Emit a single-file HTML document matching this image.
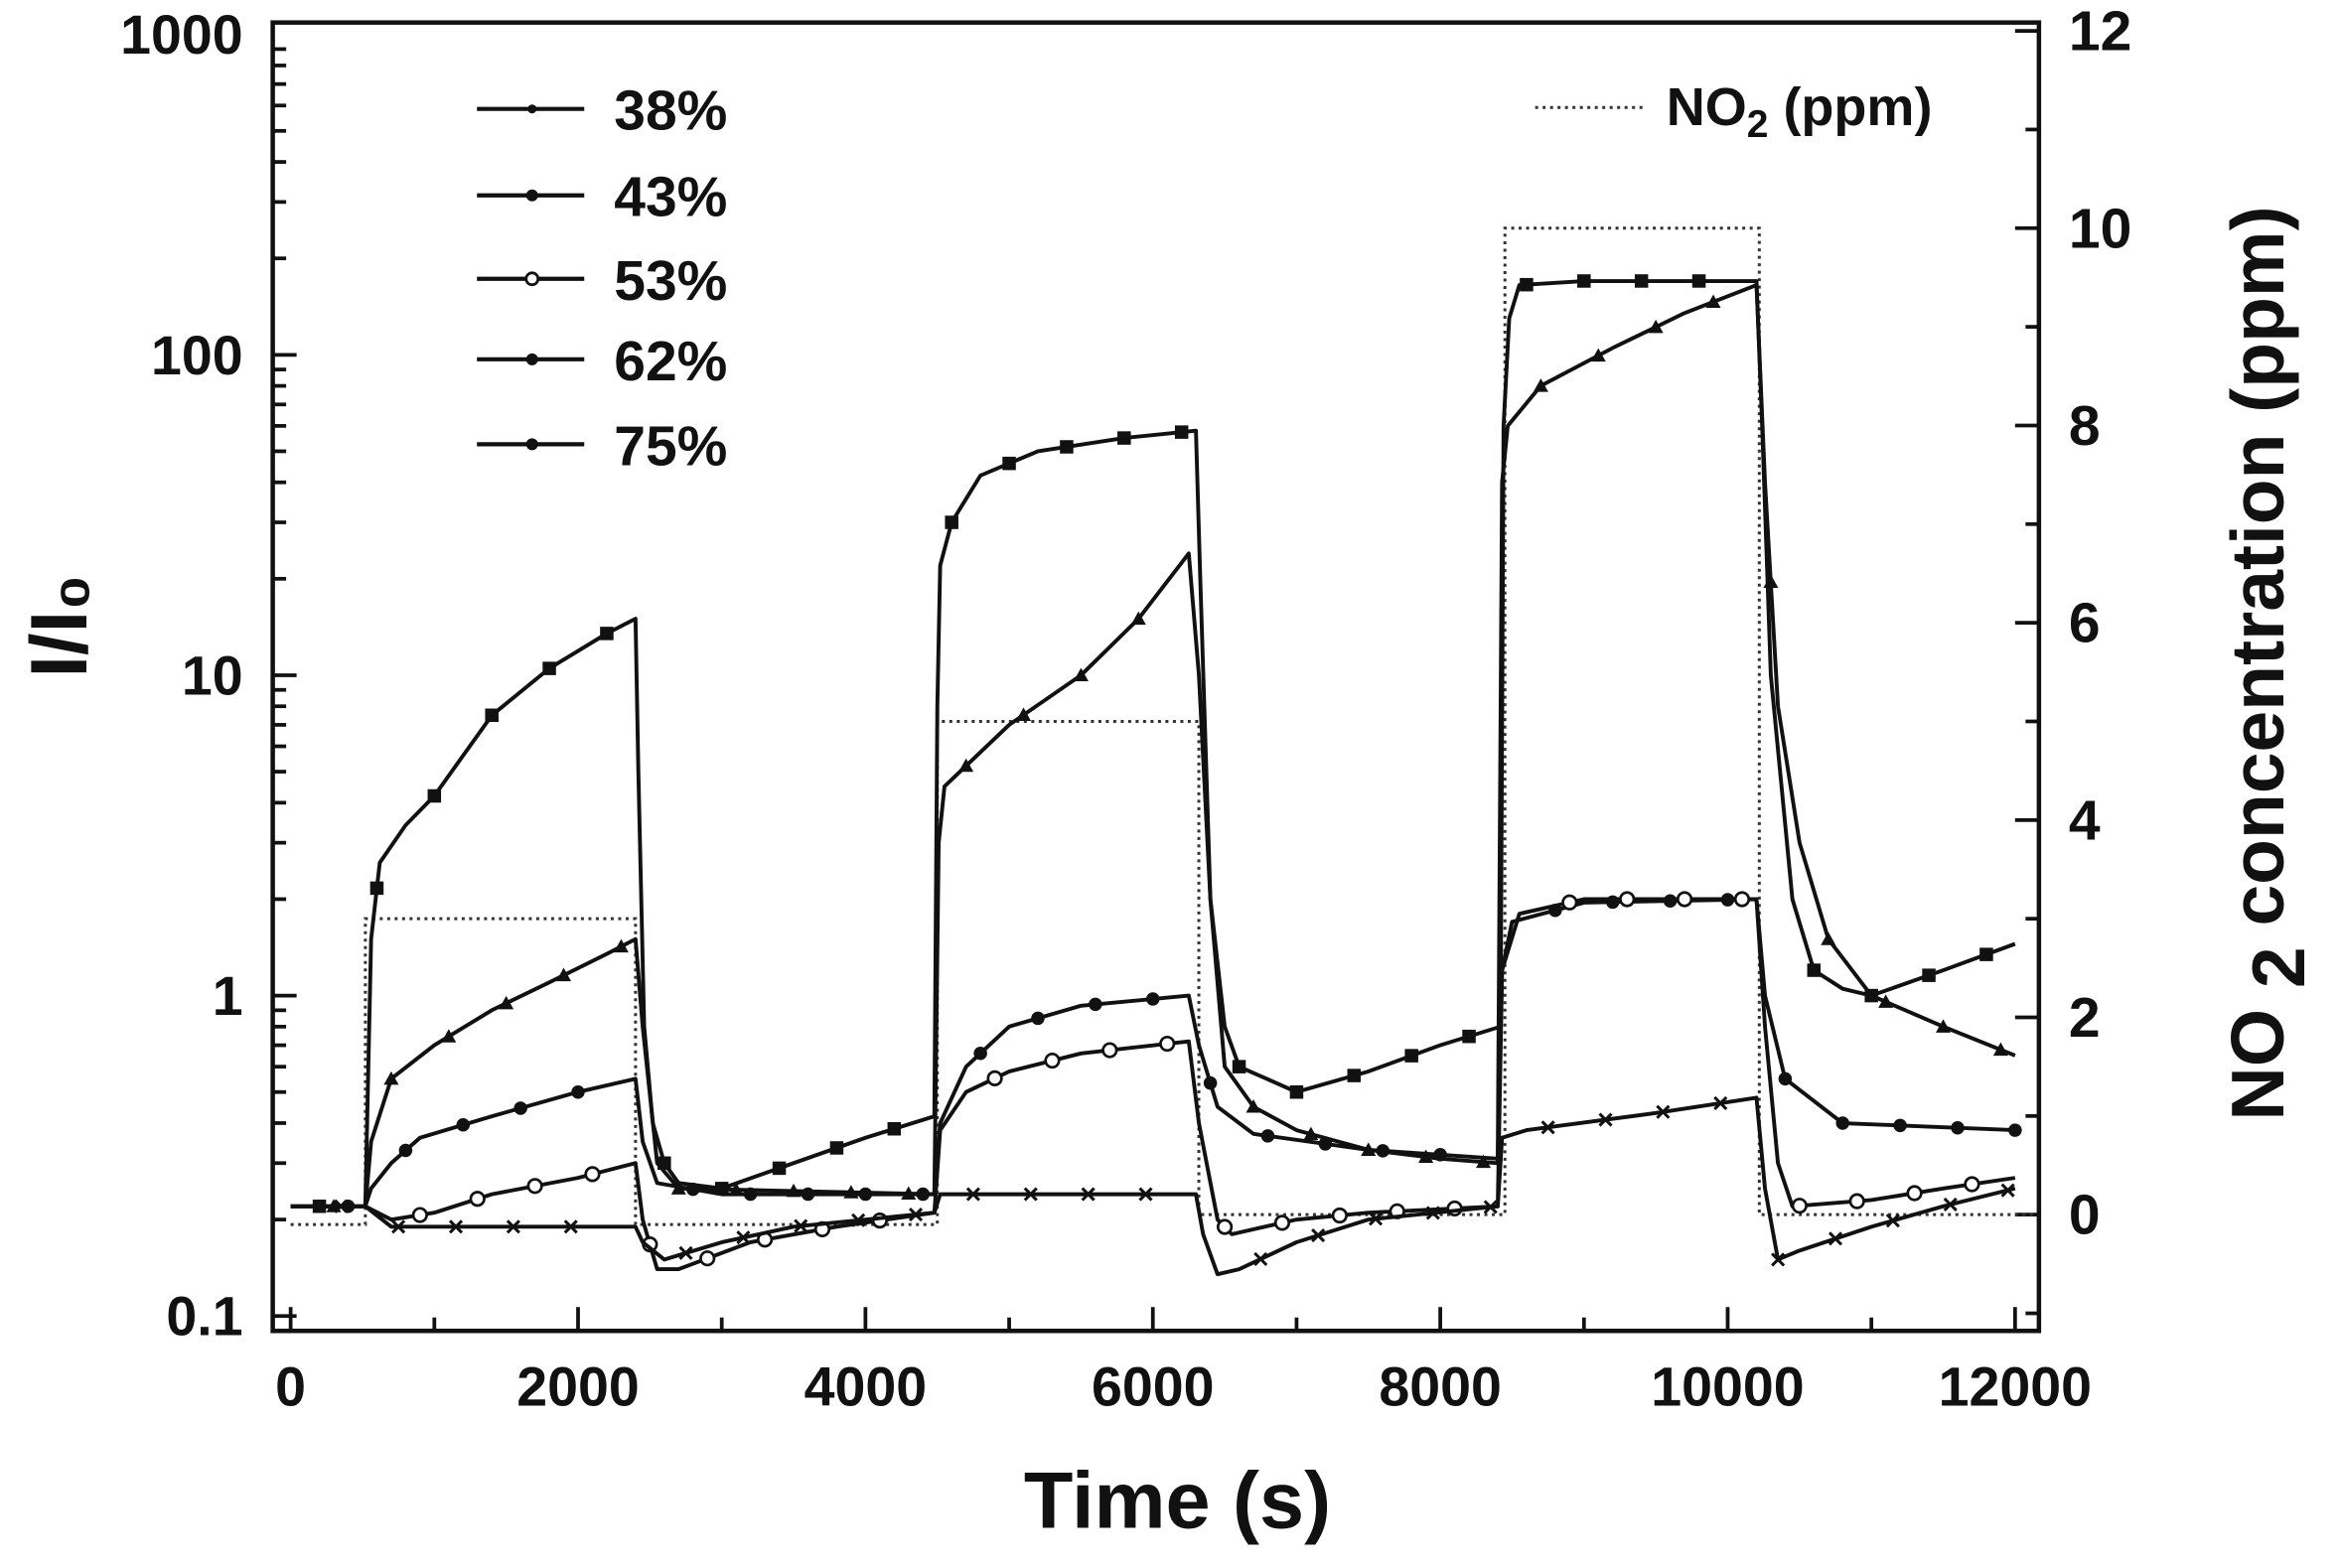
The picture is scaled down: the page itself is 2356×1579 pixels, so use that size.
<!DOCTYPE html>
<html><head><meta charset="utf-8"><style>
html,body{margin:0;padding:0;background:#fff}
svg{display:block}
text{font-family:"Liberation Sans",sans-serif;font-weight:bold;fill:#111}
</style></head><body>
<svg id="s" width="2356" height="1579" viewBox="0 0 1570 1052" xmlns="http://www.w3.org/2000/svg">
<rect x="0" y="0" width="1570" height="1052" fill="#fff"/>
<g id="g"></g>
</svg>
<script>
const NS="http://www.w3.org/2000/svg",g=document.getElementById('g');
function el(n,a,t){const e=document.createElementNS(NS,n);for(const k in a)e.setAttribute(k,a[k]);if(t!==undefined)e.textContent=t;g.appendChild(e);return e;}
const X=t=>195+t*(1352-195)/12000;
const Y=v=>668-215*Math.log10(v);
const YR=p=>815-66.2*p;
const L=183,R=1368,T=15,B=893;
el('rect',{x:L,y:T,width:R-L,height:B-T,fill:'none',stroke:'#111','stroke-width':3});
for(let t=0;t<=12000;t+=1000){const x=X(t);const big=t%2000==0;el('line',{x1:x,y1:B,x2:x,y2:B-(big?16:9),stroke:'#111','stroke-width':2.5});
 if(big)el('text',{x:x,y:943,'text-anchor':'middle','font-size':37},t);}
for(let d=-1;d<3;d++){for(let m=1;m<10;m++){const v=m*Math.pow(10,d);const y=Y(v);if(y<T||y>B)continue;el('line',{x1:L,y1:y,x2:L+(m==1?16:9),y2:y,stroke:'#111','stroke-width':2.5});}}
[[1000,'1000'],[100,'100'],[10,'10'],[1,'1'],[0.1,'0.1']].forEach(([v,s])=>el('text',{x:163,y:Y(v)+13,'text-anchor':'end','font-size':37},s));
for(let p=-1;p<=12;p++){const y=YR(p);if(y<T||y>B)continue;el('line',{x1:R,y1:y,x2:R-(p%2==0?16:9),y2:y,stroke:'#111','stroke-width':2.5});
 if(p%2==0&&p>=0)el('text',{x:1388,y:y+13,'font-size':38},p);}
el('text',{x:790,y:1025,'text-anchor':'middle','font-size':54},'Time (s)');
el('text',{x:0,y:0,'font-size':54,transform:'translate(58,420) rotate(-90)','text-anchor':'middle'},'I/I\u2080');
const rt=el('text',{x:0,y:0,'font-size':50,transform:'translate(1532,445) rotate(-90)','text-anchor':'middle'});
rt.innerHTML='NO<tspan dy="14" font-size="50"> 2</tspan><tspan dy="-14"> concentration (ppm)</tspan>';
const no2=[[0,-0.1],[520,-0.1],[520,3],[2400,3],[2400,-0.1],[4500,-0.1],[4500,5],[6320,5],[6320,0],[8450,0],[8450,10],[10220,10],[10220,0],[12150,0]];
el('polyline',{points:no2.map(([t,p])=>X(t)+','+YR(p)).join(' '),fill:'none',stroke:'#333','stroke-width':2,'stroke-dasharray':'2,3'});
const S={
A:[[0,0.22],[520,0.22],[560,1.5],[620,2.6],[800,3.4],[1000,4.2],[1400,7.5],[1800,10.5],[2200,13.5],[2400,15],[2420,5],[2460,0.8],[2520,0.4],[2600,0.3],[2700,0.26],[3000,0.25],[3500,0.3],[4000,0.36],[4480,0.42],[4500,8],[4520,22],[4600,30],[4800,42],[5200,50],[5800,55],[6300,58],[6330,20],[6400,2],[6500,0.8],[6600,0.6],[7000,0.5],[7500,0.58],[8000,0.7],[8420,0.8],[8440,60],[8480,130],[8550,165],[9000,170],[10000,170],[10200,170],[10240,60],[10300,10],[10450,2],[10600,1.2],[10800,1.05],[11000,1.0],[11500,1.2],[12000,1.45]],
B:[[0,0.22],[520,0.22],[560,0.35],[700,0.55],[1000,0.7],[1400,0.9],[1800,1.1],[2200,1.35],[2400,1.5],[2450,0.8],[2550,0.3],[2700,0.25],[4480,0.24],[4510,3],[4550,4.5],[5000,7],[5500,10],[5900,15],[6250,24],[6320,10],[6400,2],[6500,0.6],[6700,0.45],[7000,0.38],[7500,0.33],[8000,0.31],[8400,0.3],[8430,40],[8470,60],[8700,80],[9200,105],[9700,135],[10200,165],[10260,40],[10350,8],[10500,3],[10700,1.5],[11000,1.0],[11500,0.8],[12000,0.65]],
C:[[0,0.22],[520,0.22],[560,0.25],[700,0.3],[900,0.36],[1400,0.42],[2000,0.5],[2400,0.55],[2450,0.35],[2550,0.26],[3000,0.24],[4480,0.24],[4520,0.4],[4700,0.6],[5000,0.8],[5500,0.93],[6250,1.0],[6320,0.7],[6450,0.45],[6700,0.37],[7500,0.33],[8400,0.31],[8430,1.2],[8500,1.7],[9000,1.95],[10200,2.0],[10260,1.0],[10400,0.55],[10800,0.4],[12000,0.38]],
D:[[0,0.22],[520,0.22],[700,0.2],[1000,0.21],[1400,0.24],[2000,0.27],[2400,0.3],[2450,0.2],[2550,0.14],[2700,0.14],[3200,0.17],[3800,0.19],[4480,0.21],[4520,0.38],[4700,0.5],[5000,0.58],[5500,0.66],[6250,0.72],[6320,0.4],[6450,0.2],[6550,0.18],[7000,0.2],[7500,0.21],[8400,0.22],[8430,1.2],[8550,1.8],[9000,2.0],[10200,2.0],[10260,0.8],[10350,0.3],[10450,0.22],[11000,0.23],[11500,0.25],[12000,0.27]],
E:[[0,0.22],[520,0.22],[700,0.19],[2400,0.19],[2450,0.17],[2600,0.15],[3000,0.17],[3500,0.19],[4000,0.2],[4480,0.21],[4520,0.24],[6300,0.24],[6350,0.18],[6450,0.135],[6600,0.14],[7000,0.17],[7500,0.2],[8400,0.22],[8430,0.36],[8600,0.38],[9500,0.43],[10200,0.48],[10260,0.25],[10350,0.15],[10500,0.16],[11000,0.19],[11500,0.22],[12000,0.25]]};
function interp(pts,t){for(let i=1;i<pts.length;i++){if(pts[i][0]>=t){const a=pts[i-1],b=pts[i];const f=(t-a[0])/((b[0]-a[0])||1);return Math.pow(10,Math.log10(a[1])+f*(Math.log10(b[1])-Math.log10(a[1])));}}return pts[pts.length-1][1];}
function marker(k,x,y){
 if(k=='A')el('rect',{x:x-4.5,y:y-4.5,width:9,height:9,fill:'#111'});
 else if(k=='B')el('polygon',{points:`${x},${y-5} ${x+5},${y+4} ${x-5},${y+4}`,fill:'#111'});
 else if(k=='C')el('circle',{cx:x,cy:y,r:4.5,fill:'#111'});
 else if(k=='D')el('circle',{cx:x,cy:y,r:4.5,fill:'#fff',stroke:'#111','stroke-width':1.8});
 else {el('path',{d:`M${x-4},${y-4}L${x+4},${y+4}M${x+4},${y-4}L${x-4},${y+4}`,stroke:'#111','stroke-width':2});}
}
const off={A:0,B:100,C:200,D:300,E:150};
for(const k in S){const p=S[k];
 el('polyline',{points:p.map(([t,v])=>X(t).toFixed(1)+','+Y(v).toFixed(1)).join(' '),fill:'none',stroke:'#111','stroke-width':2.6,'stroke-linejoin':'round'});
 for(let t=off[k]+200;t<=12000;t+=400){if([520,2400,4500,6300,8450,10220].some(s=>Math.abs(t-s)<60))continue;marker(k,X(t),Y(interp(p,t)));}
}
const lg=[['38%','E',73],['43%','C',131],['53%','D',187],['62%','A',241],['75%','B',298]];
lg.forEach(([s,k,y])=>{el('line',{x1:320,y1:y,x2:392,y2:y,stroke:'#111','stroke-width':2.8});
 if(k=='D')el('circle',{cx:357,cy:y,r:4,fill:'#fff',stroke:'#111','stroke-width':1.8});else el('circle',{cx:357,cy:y,r:(k=='E'?3:4),fill:'#111'});
 el('text',{x:412,y:y+14,'font-size':38},s);});
el('line',{x1:1030,y1:72,x2:1105,y2:72,stroke:'#333','stroke-width':2,'stroke-dasharray':'2,3'});
const nt=el('text',{x:1118,y:84,'font-size':36});
nt.innerHTML='NO<tspan dy="8" font-size="26">2</tspan><tspan dy="-8"> (ppm)</tspan>';
</script>
</body></html>
